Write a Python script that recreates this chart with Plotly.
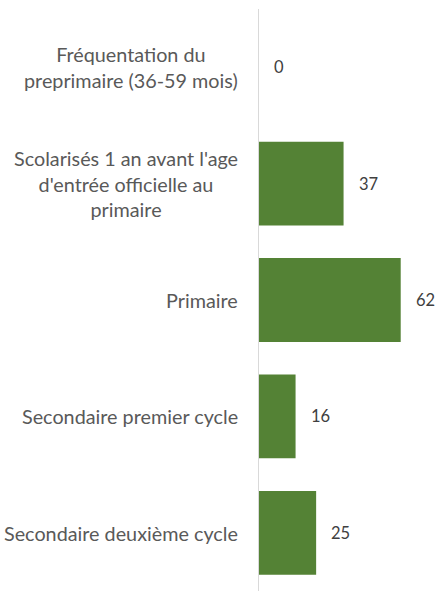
import plotly.graph_objects as go

categories = [
    "Fréquentation du<br>preprimaire (36-59 mois)",
    "Scolarisés 1 an avant l'age<br>d'entrée officielle au<br>primaire",
    "Primaire",
    "Secondaire premier cycle",
    "Secondaire deuxième cycle",
]
values = [0, 37, 62, 16, 25]
value_labels = ["0", "37", "62", "16", "25"]

fig = go.Figure()
fig.add_trace(go.Bar(
    x=values, y=categories, orientation="h",
    marker=dict(color="#548235", line=dict(width=0)),
    hoverinfo="skip",
))

for c, v, t in zip(categories, values, value_labels):
    fig.add_annotation(x=v, y=c, xref="x", yref="y", text=t, showarrow=False,
                       xanchor="left", xshift=13,
                       font=dict(family="Lato, Open Sans, sans-serif", size=16.5, color="#404040"))
    fig.add_annotation(x=0, y=c, xref="paper", yref="y", text=c, showarrow=False,
                       xanchor="right", align="center", xshift=-19,
                       font=dict(family="Lato, Open Sans, sans-serif", size=19.8, color="#595959"))

fig.update_layout(
    width=437, height=592,
    margin=dict(l=259, r=10, t=9, b=1),
    paper_bgcolor="white", plot_bgcolor="white",
    bargap=0.28, showlegend=False,
    xaxis=dict(visible=False, range=[0, 73.5], fixedrange=True),
    yaxis=dict(autorange="reversed", showticklabels=False, showgrid=False,
               zeroline=False, showline=True, linecolor="#d9d9d9", linewidth=1,
               ticks=""),
)

fig.write_html(
    "out.html",
    config={"displayModeBar": False},
    post_script="document.body.style.margin='0';document.body.style.overflow='hidden';",
)
